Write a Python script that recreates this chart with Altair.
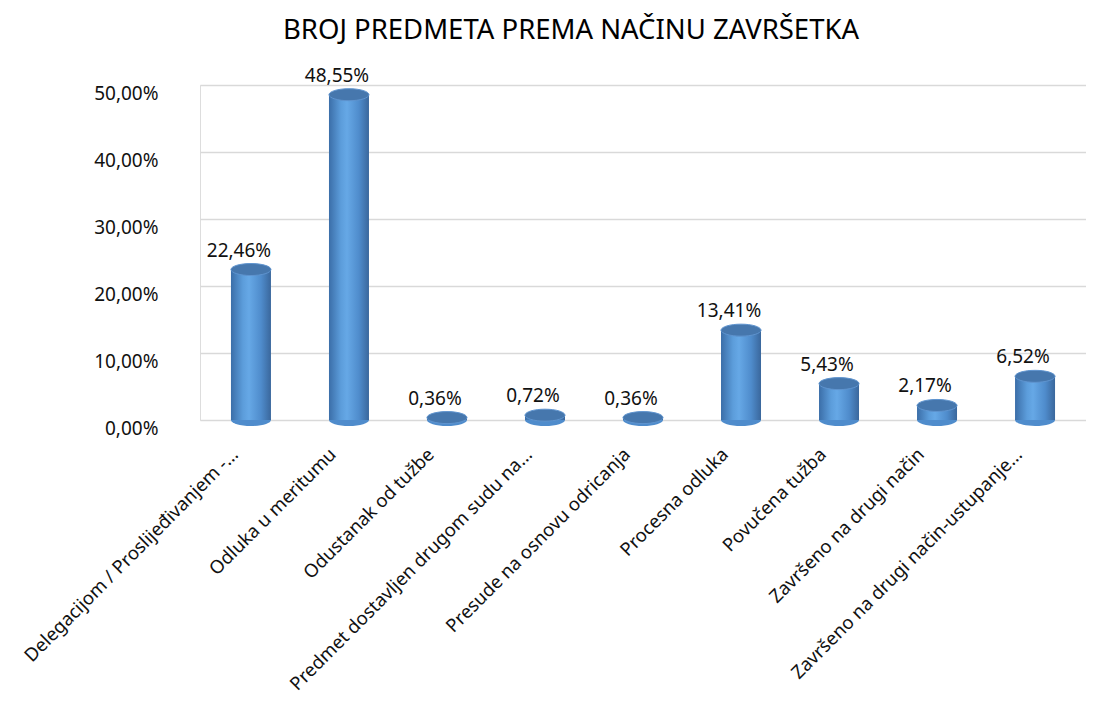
import altair as alt
import pandas as pd

categories = [
    "Delegacijom / Proslijeđivanjem -...",
    "Odluka u meritumu",
    "Odustanak od tužbe",
    "Predmet dostavljen drugom sudu na...",
    "Presude na osnovu odricanja",
    "Procesna odluka",
    "Povučena tužba",
    "Završeno na drugi način",
    "Završeno na drugi način-ustupanje...",
]
values = [22.46, 48.55, 0.36, 0.72, 0.36, 13.41, 5.43, 2.17, 6.52]
labels = [f"{v:.2f}".replace(".", ",") + "%" for v in values]
y_ticks = [0, 10, 20, 30, 40, 50]

df = pd.DataFrame({"cat": categories, "val": values, "lab": labels, "zero": [0] * len(values)})

FONT = "Noto Sans"

x_enc = alt.X(
    "cat:N",
    sort=categories,
    scale=alt.Scale(paddingInner=0, paddingOuter=0.02),
    axis=alt.Axis(
        title=None,
        labelAngle=-45,
        labelAlign="right",
        labelBaseline="middle",
        labelFont=FONT,
        labelFontSize=18.5,
        labelColor="#111111",
        labelPadding=31,
        labelOffset=-16,
        labelLimit=500,
        domain=False,
        ticks=False,
        grid=False,
    ),
)
y_scale = alt.Scale(domain=[0, 50], nice=False)
y_axis = alt.Axis(
    title=None,
    values=y_ticks,
    labelExpr="replace(format(datum.value, '.2f'), '.', ',') + '%'",
    labelFont=FONT,
    labelFontSize=19,
    labelColor="#111111",
    labelPadding=42,
    labelOffset=8,
    domain=False,
    ticks=False,
    grid=True,
    gridColor="#d9d9d9",
    gridWidth=1.5,
)

base = alt.Chart(df)

body = base.mark_bar(
    size=40,
    color=alt.Gradient(
        gradient="linear",
        x1=0, x2=1, y1=0, y2=0,
        stops=[
            alt.GradientStop(color="#3b6ea8", offset=0),
            alt.GradientStop(color="#5c9ddb", offset=0.3),
            alt.GradientStop(color="#66a8e6", offset=0.45),
            alt.GradientStop(color="#4f8ccc", offset=0.75),
            alt.GradientStop(color="#3a679c", offset=1),
        ],
    ),
).encode(x=x_enc, y=alt.Y("val:Q", scale=y_scale, axis=y_axis), y2="zero:Q")

ellipse = "M-1,0A1,0.3,0,1,1,1,0A1,0.3,0,1,1,-1,0Z"

bottom = base.mark_point(shape=ellipse, size=1600, filled=True, color="#4f8ccc", opacity=1).encode(
    x=x_enc, y=alt.Y("zero:Q", scale=y_scale)
)
top = base.mark_point(shape=ellipse, size=1600, filled=True, color="#4677ad", opacity=1,
                      stroke="#5f94cf", strokeWidth=1).encode(
    x=x_enc, y=alt.Y("val:Q", scale=y_scale)
)
text = base.mark_text(font=FONT, fontSize=19, color="#111111", baseline="bottom", dy=-9, dx=-12).encode(
    x=x_enc, y=alt.Y("val:Q", scale=y_scale), text="lab:N"
)

chart = (
    alt.layer(bottom, body, top, text)
    .properties(
        width=886,
        height=335,
        padding={"left": 192, "top": 77, "right": 0, "bottom": 280},
        autosize=alt.AutoSizeParams(type="none"),
        title=alt.TitleParams(
            "BROJ PREDMETA PREMA NAČINU ZAVRŠETKA",
            font=FONT,
            fontSize=27.5,
            fontWeight="normal",
            color="#000000",
            offset=22,
            dx=-72,
        ),
    )
    .configure_view(stroke=None)
    .configure(background="white")
)

chart.save("out.html", embed_options={"renderer": "svg", "actions": False})
